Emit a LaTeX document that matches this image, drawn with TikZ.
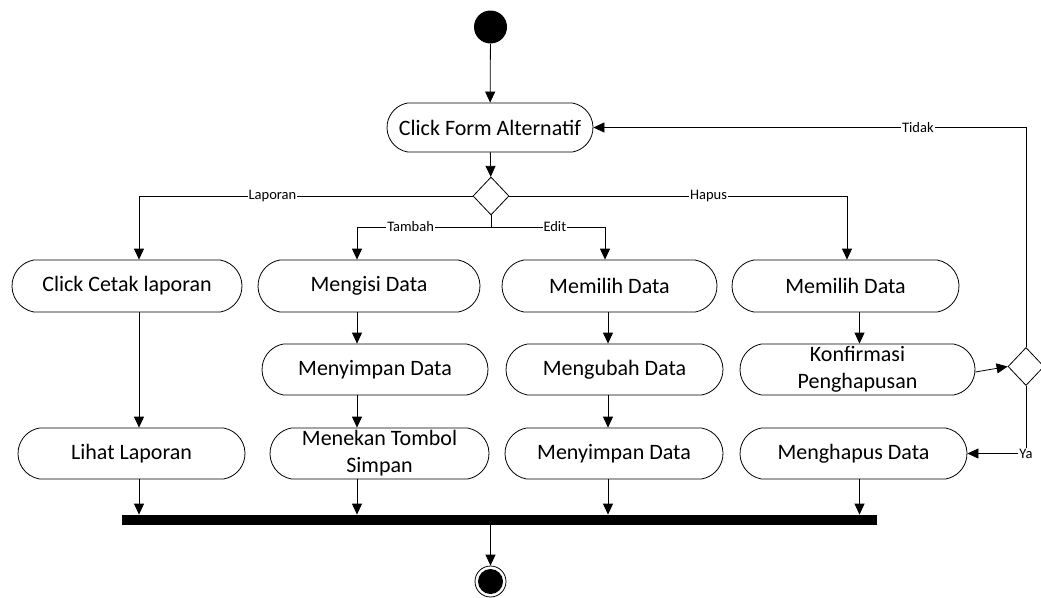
\documentclass[tikz,border=0pt]{standalone}
\usepackage{fontspec}
\setmainfont{Carlito}
\usetikzlibrary{arrows.meta,shapes.geometric,shapes.misc}
\begin{document}
\begin{tikzpicture}[x=1pt,y=-1pt,
  line width=0.8pt,
  act/.style={draw,line width=0.8pt,rounded rectangle,rounded rectangle arc length=160,minimum height=51pt,inner sep=0pt,align=center,font=\fontsize{22}{27}\selectfont},
  dec/.style={draw,diamond,line width=0.8pt,minimum width=36pt,minimum height=38pt,inner sep=0pt,fill=white},
  arr/.style={-{Triangle[length=11pt,width=10pt]}},
  lbl/.style={fill=white,inner sep=1pt,font=\fontsize{14.5}{16}\selectfont}]
\useasboundingbox (0,0) rectangle (1041,597);
% column coordinates
\coordinate (x1) at (139,0);
\coordinate (x2) at (357,0);
\coordinate (x3) at (605,0);
\coordinate (x3b) at (608,0);
\coordinate (x4) at (847,0);
\coordinate (x4b) at (859.5,0);
\coordinate (xm) at (490.5,0);
% nodes
\node[circle,fill=black,minimum size=33pt,inner sep=0pt] (start) at (490.5,27) {};
\node[act,minimum width=206pt,minimum height=49pt] (cfa) at (490,127.5) {Click Form Alternatif};
\node[dec] (d1) at (491,196) {};
\coordinate (j) at (491,227);
\node[act,minimum width=230pt,minimum height=52pt] (ccl) at (127,286) {Click Cetak laporan};
\node[act,minimum width=222pt,minimum height=52pt] (mid1) at (369,286) {Mengisi Data};
\node[act,minimum width=215pt,minimum height=52pt] (mpd1) at (609.5,286) {Memilih Data};
\node[act,minimum width=227pt,minimum height=52pt] (mpd2) at (845.5,286) {Memilih Data};
\node[act,minimum width=226pt] (msd1) at (375,369.5) {Menyimpan Data};
\node[act,minimum width=217pt] (mud) at (614.5,369.5) {Mengubah Data};
\node[act,minimum width=235pt] (kp) at (857.5,369.5) {Konfirmasi\\Penghapusan};
\node[dec] (d2) at (1026,366.5) {};
\node[act,minimum width=227pt] (lhl) at (131.5,453.5) {Lihat Laporan};
\node[act,minimum width=219pt] (mts) at (379.5,453.5) {Menekan Tombol\\Simpan};
\node[act,minimum width=218pt] (msd2) at (614,453.5) {Menyimpan Data};
\node[act,minimum width=227pt] (mhd) at (853.5,453.5) {Menghapus Data};
\node[fill=black,minimum width=755pt,minimum height=10pt,inner sep=0pt] (bar) at (499.5,520) {};
\node[circle,draw,line width=0.8pt,minimum size=31pt,inner sep=0pt] (endo) at (490.5,581.5) {};
\node[circle,fill=black,minimum size=25pt,inner sep=0pt] (endi) at (endo) {};
% connectors
\draw[arr] (start) -- (cfa);
\draw[arr] (cfa) -- (d1);
\draw[arr] (d1.west) -- node[lbl,pos=0.6]{Laporan} (d1.west -| x1) -- (ccl.north -| x1);
\draw[arr] (d1.east) -- node[lbl,pos=0.59]{Hapus} (d1.east -| x4) -- (mpd2.north -| x4);
\draw (d1.south) -- (j);
\draw[arr] (j) -- node[lbl,pos=0.6]{Tambah} (j -| x2) -- (mid1.north -| x2);
\draw[arr] (j) -- node[lbl,pos=0.56]{Edit} (j -| x3) -- (mpd1.north -| x3);
\draw[arr] (ccl.south -| x1) -- (lhl.north -| x1);
\draw[arr] (lhl.south -| x1) -- (bar.north -| x1);
\draw[arr] (mid1.south -| x2) -- (msd1.north -| x2);
\draw[arr] (msd1.south -| x2) -- (mts.north -| x2);
\draw[arr] (mts.south -| x2) -- (bar.north -| x2);
\draw[arr] (mpd1.south -| x3b) -- (mud.north -| x3b);
\draw[arr] (mud.south -| x3b) -- (msd2.north -| x3b);
\draw[arr] (msd2.south -| x3b) -- (bar.north -| x3b);
\draw[arr] (mpd2.south -| x4b) -- (kp.north -| x4b);
\draw[arr] (mhd.south -| x4b) -- (bar.north -| x4b);
\draw[arr] ([yshift=-2.5pt]kp.east) -- (d2.west);
\draw[arr] (d2.north) |- node[lbl,pos=0.625]{Tidak} (cfa.east);
\draw[arr] (d2.south) |- node[lbl,pos=0.5]{Ya} (mhd.east);
\draw[arr] (bar.south -| xm) -- (endo.north);
\end{tikzpicture}
\end{document}
